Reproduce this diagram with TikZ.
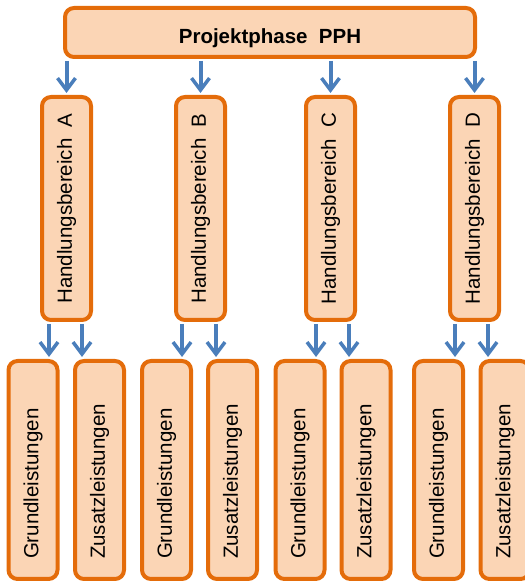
\documentclass[tikz,border=0pt]{standalone}
\usepackage{fontspec}
\setmainfont{Liberation Sans}
\usepackage{tikz}
\usetikzlibrary{arrows.meta,calc}
\definecolor{rahmen}{RGB}{228,108,10}
\definecolor{fuellung}{RGB}{251,213,181}
\definecolor{pfeilblau}{RGB}{74,126,187}

\begin{document}
\begin{tikzpicture}[x=1pt,y=1pt,
  kasten/.style={draw=rahmen,fill=fuellung,line width=4pt,rounded corners=9pt,
    font=\fontsize{20.5}{24}\selectfont},
  bereich/.style={kasten,rotate=90,minimum width=223pt,minimum height=49pt,inner sep=0pt},
  leistung/.style={kasten,rotate=90,anchor=west,text width=178pt,inner xsep=20pt,
    inner ysep=0pt,minimum height=49pt,align=left},
  pfeil/.style={pfeilblau,line width=4pt,shorten <=2pt,shorten >=2pt,
    -{Straight Barb[length=12pt,width=18pt,line width=3.5pt]}}]
  \useasboundingbox (0,0) rectangle (525,584);
  % Kopf
  \node[kasten,font=\fontsize{20.5}{24}\selectfont\bfseries,minimum width=410pt,
    minimum height=49pt,inner sep=0pt,text height=22pt,text depth=0pt]
    (phase) at (270,551.5) {Projektphase~~PPH};
  % Handlungsbereiche
  \node[bereich] (hA) at (66.5,375.5) {Handlungsbereich~~A};
  \node[bereich] (hB) at (200.5,375.5) {Handlungsbereich~~B};
  \node[bereich] (hC) at (330.5,375.5) {Handlungsbereich~~C};
  \node[bereich] (hD) at (474.5,375.5) {Handlungsbereich~~D};
  % Leistungen
  \node[leistung] (gA) at (33,3) {Grundleistungen};
  \node[leistung] (zA) at (99.5,3) {Zusatzleistungen};
  \node[leistung] (gB) at (166.5,3) {Grundleistungen};
  \node[leistung] (zB) at (232.5,3) {Zusatzleistungen};
  \node[leistung] (gC) at (300,3) {Grundleistungen};
  \node[leistung] (zC) at (366,3) {Zusatzleistungen};
  \node[leistung] (gD) at (438.5,3) {Grundleistungen};
  \node[leistung] (zD) at (505,3) {Zusatzleistungen};
  % Pfeile
  \foreach \h in {hA,hB,hC,hD}
    \draw[pfeil] (phase.south -| \h.east) -- (\h.east);
  \foreach \h/\l/\dh/\dl in {hA/gA/-17.5/16,hA/zA/15.5/-17.5,hB/gB/-18.5/15.5,hB/zB/15.5/-16.5,
      hC/gC/-14.5/16,hC/zC/18.5/-17,hD/gD/-19.5/16.5,hD/zD/13.5/-17}
    \draw[pfeil] ([xshift=\dh pt]\h.west) -- ([xshift=\dl pt]\l.east);
\end{tikzpicture}
\end{document}
